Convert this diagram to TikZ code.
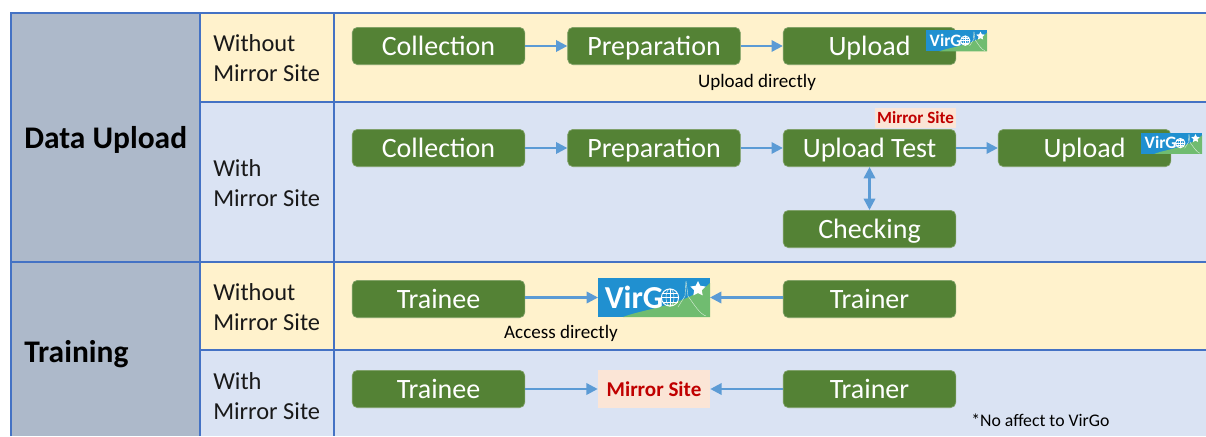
\documentclass[tikz,border=0pt]{standalone}
\usepackage{fontspec}
\setmainfont{Carlito}
\usetikzlibrary{arrows.meta,shapes.geometric}
\definecolor{grid}{HTML}{4472C4}
\definecolor{cream}{HTML}{FFF2CC}
\definecolor{paleblue}{HTML}{DAE3F3}
\definecolor{slate}{HTML}{ADB9CA}
\definecolor{leaf}{HTML}{548235}
\definecolor{flow}{HTML}{5B9BD5}
\definecolor{peach}{HTML}{FBE5D6}
\definecolor{crimson}{HTML}{C00000}
\definecolor{logoblue}{HTML}{2090D0}
\definecolor{logogreen}{HTML}{70BC70}
\tikzset{
  x=0.75pt,y=-0.75pt,
  gridline/.style={draw=grid,line width=1.5pt},
  stepbox/.style={rounded corners=4pt,fill=leaf,draw=leaf!75!white,line width=0.5pt,text=white,minimum width=129.5pt,minimum height=28pt,inner sep=0pt,text height=17pt,text depth=3.5pt,font=\fontsize{21}{22}\selectfont},
  rowlabel/.style={anchor=west,align=left,inner sep=0pt,font=\fontsize{18.3}{22.2}\selectfont,text=black!90},
  headlabel/.style={anchor=west,inner sep=0pt,font=\fontsize{23.6}{26}\selectfont\bfseries,text=black},
  note/.style={inner sep=0pt,font=\fontsize{14.3}{16}\selectfont,text=black},
  endnote/.style={inner sep=0pt,font=\fontsize{13.3}{15}\selectfont,text=black},
  flowline/.style={draw=flow,line width=1.8pt,-{Triangle[length=8.5pt,width=8.5pt]}},
  flowboth/.style={draw=flow,line width=1.8pt,{Triangle[length=8.5pt,width=8.5pt]}-{Triangle[length=8.5pt,width=8.5pt]}},
  mirrorbig/.style={fill=peach,text=crimson,minimum width=84pt,minimum height=28pt,inner sep=0pt,font=\fontsize{15.8}{17}\selectfont\bfseries},
  mirrorsmall/.style={fill=peach,text=crimson,minimum width=61pt,minimum height=15pt,inner sep=0pt,font=\fontsize{12.8}{14}\selectfont\bfseries},
}
% logo drawn in a 112 x 39 px box: #1 origin, #2 scale
\newcommand{\virgologo}[2]{%
  \begin{scope}[shift={#1},scale=#2,transform shape]
    \fill[logoblue] (0,0) rectangle (112,39);
    \fill[logogreen] (25,39) .. controls (45,31) and (90,27) .. (112,5) -- (112,39) -- cycle;
    \node[text=white,anchor=west,inner sep=0pt,font=\fontsize{24}{24}\selectfont\bfseries] at (6.5,19) {VirG};
    \draw[white,line width=0.7pt] (72,19.5) circle (8.6);
    \draw[white,line width=0.35pt] (63.4,19.5) -- (80.6,19.5) (72,11) -- (72,28) (64.5,15) -- (79.5,15) (64.5,24) -- (79.5,24);
    \draw[white,line width=0.35pt] (72,19.5) ellipse (4 and 8.6);
    \draw[white!75!logogreen,line width=0.3pt] (80,29) -- (87,18) -- (88,3) -- (90,18) .. controls (97,28) and (102,36) .. (108,38);
    \node[star,star points=5,star point ratio=2,fill=white,inner sep=0pt,minimum size=12pt] at (100,11) {};
  \end{scope}%
}
\begin{document}
\begin{tikzpicture}
\useasboundingbox (0,0) rectangle (1206,436);
% bands
\fill[slate] (11,13) rectangle (200,436);
\fill[cream] (200,13) rectangle (1206,102);
\fill[paleblue] (200,102) rectangle (1206,262);
\fill[cream] (200,262) rectangle (1206,350);
\fill[paleblue] (200,350) rectangle (1206,436);
% grid
\draw[gridline] (11,436) -- (11,13) -- (1206,13);
\draw[gridline] (200,13) -- (200,436);
\draw[gridline] (334,13) -- (334,436);
\draw[gridline] (200,102) -- (1206,102);
\draw[gridline] (11,262) -- (1206,262);
\draw[gridline] (200,350) -- (1206,350);
% headings
\node[headlabel] (hupload) at (24,140) {Data Upload};
\node[headlabel] (htrain) at (24,354) {Training};
\node[rowlabel] (r1) at (213,58) {Without\\Mirror Site};
\node[rowlabel] (r2) at (213,183) {With\\Mirror Site};
\node[rowlabel] (r3) at (213,307) {Without\\Mirror Site};
\node[rowlabel] (r4) at (213,396) {With\\Mirror Site};
% row 1
\node[stepbox] (a1) at (438.5,46) {Collection};
\node[stepbox] (a2) at (654,46) {Preparation};
\node[stepbox] (a3) at (869.5,46) {Upload};
\draw[flowline] (a1) -- (a2);
\draw[flowline] (a2) -- (a3);
\node[note] (n1) at (757,82) {Upload directly};
\virgologo{(926,30)}{0.545}
% row 2
\node[stepbox] (b1) at (438.5,148) {Collection};
\node[stepbox] (b2) at (654,148) {Preparation};
\node[stepbox] (b3) at (869.5,148) {Upload Test};
\node[stepbox] (b4) at (1084.5,148) {Upload};
\node[stepbox] (b5) at (869.5,229) {Checking};
\draw[flowline] (b1) -- (b2);
\draw[flowline] (b2) -- (b3);
\draw[flowline] (b3) -- (b4);
\draw[flowboth] (b3) -- (b5);
\node[mirrorsmall] (m1) at (915.5,117.5) {Mirror Site};
\virgologo{(1141,132.5)}{0.545}
% row 3
\node[stepbox] (c1) at (438.5,299) {Trainee};
\node[stepbox] (c2) at (869.5,299) {Trainer};
\virgologo{(598,278)}{1}
\coordinate (logoL) at (598,297.5);
\coordinate (logoR) at (710,297.5);
\draw[flowline] (c1.east |- logoL) -- (logoL);
\draw[flowline] (c2.west |- logoR) -- (logoR);
\node[note] (n2) at (561,333) {Access directly};
% row 4
\node[stepbox] (d1) at (438.5,389) {Trainee};
\node[stepbox] (d2) at (869.5,389) {Trainer};
\node[mirrorbig] (m2) at (654,389) {Mirror Site};
\draw[flowline] (d1) -- (m2);
\draw[flowline] (d2) -- (m2);
\node[endnote,anchor=west] (n3) at (971,420.5) {*No affect to VirGo};
\end{tikzpicture}
\end{document}
